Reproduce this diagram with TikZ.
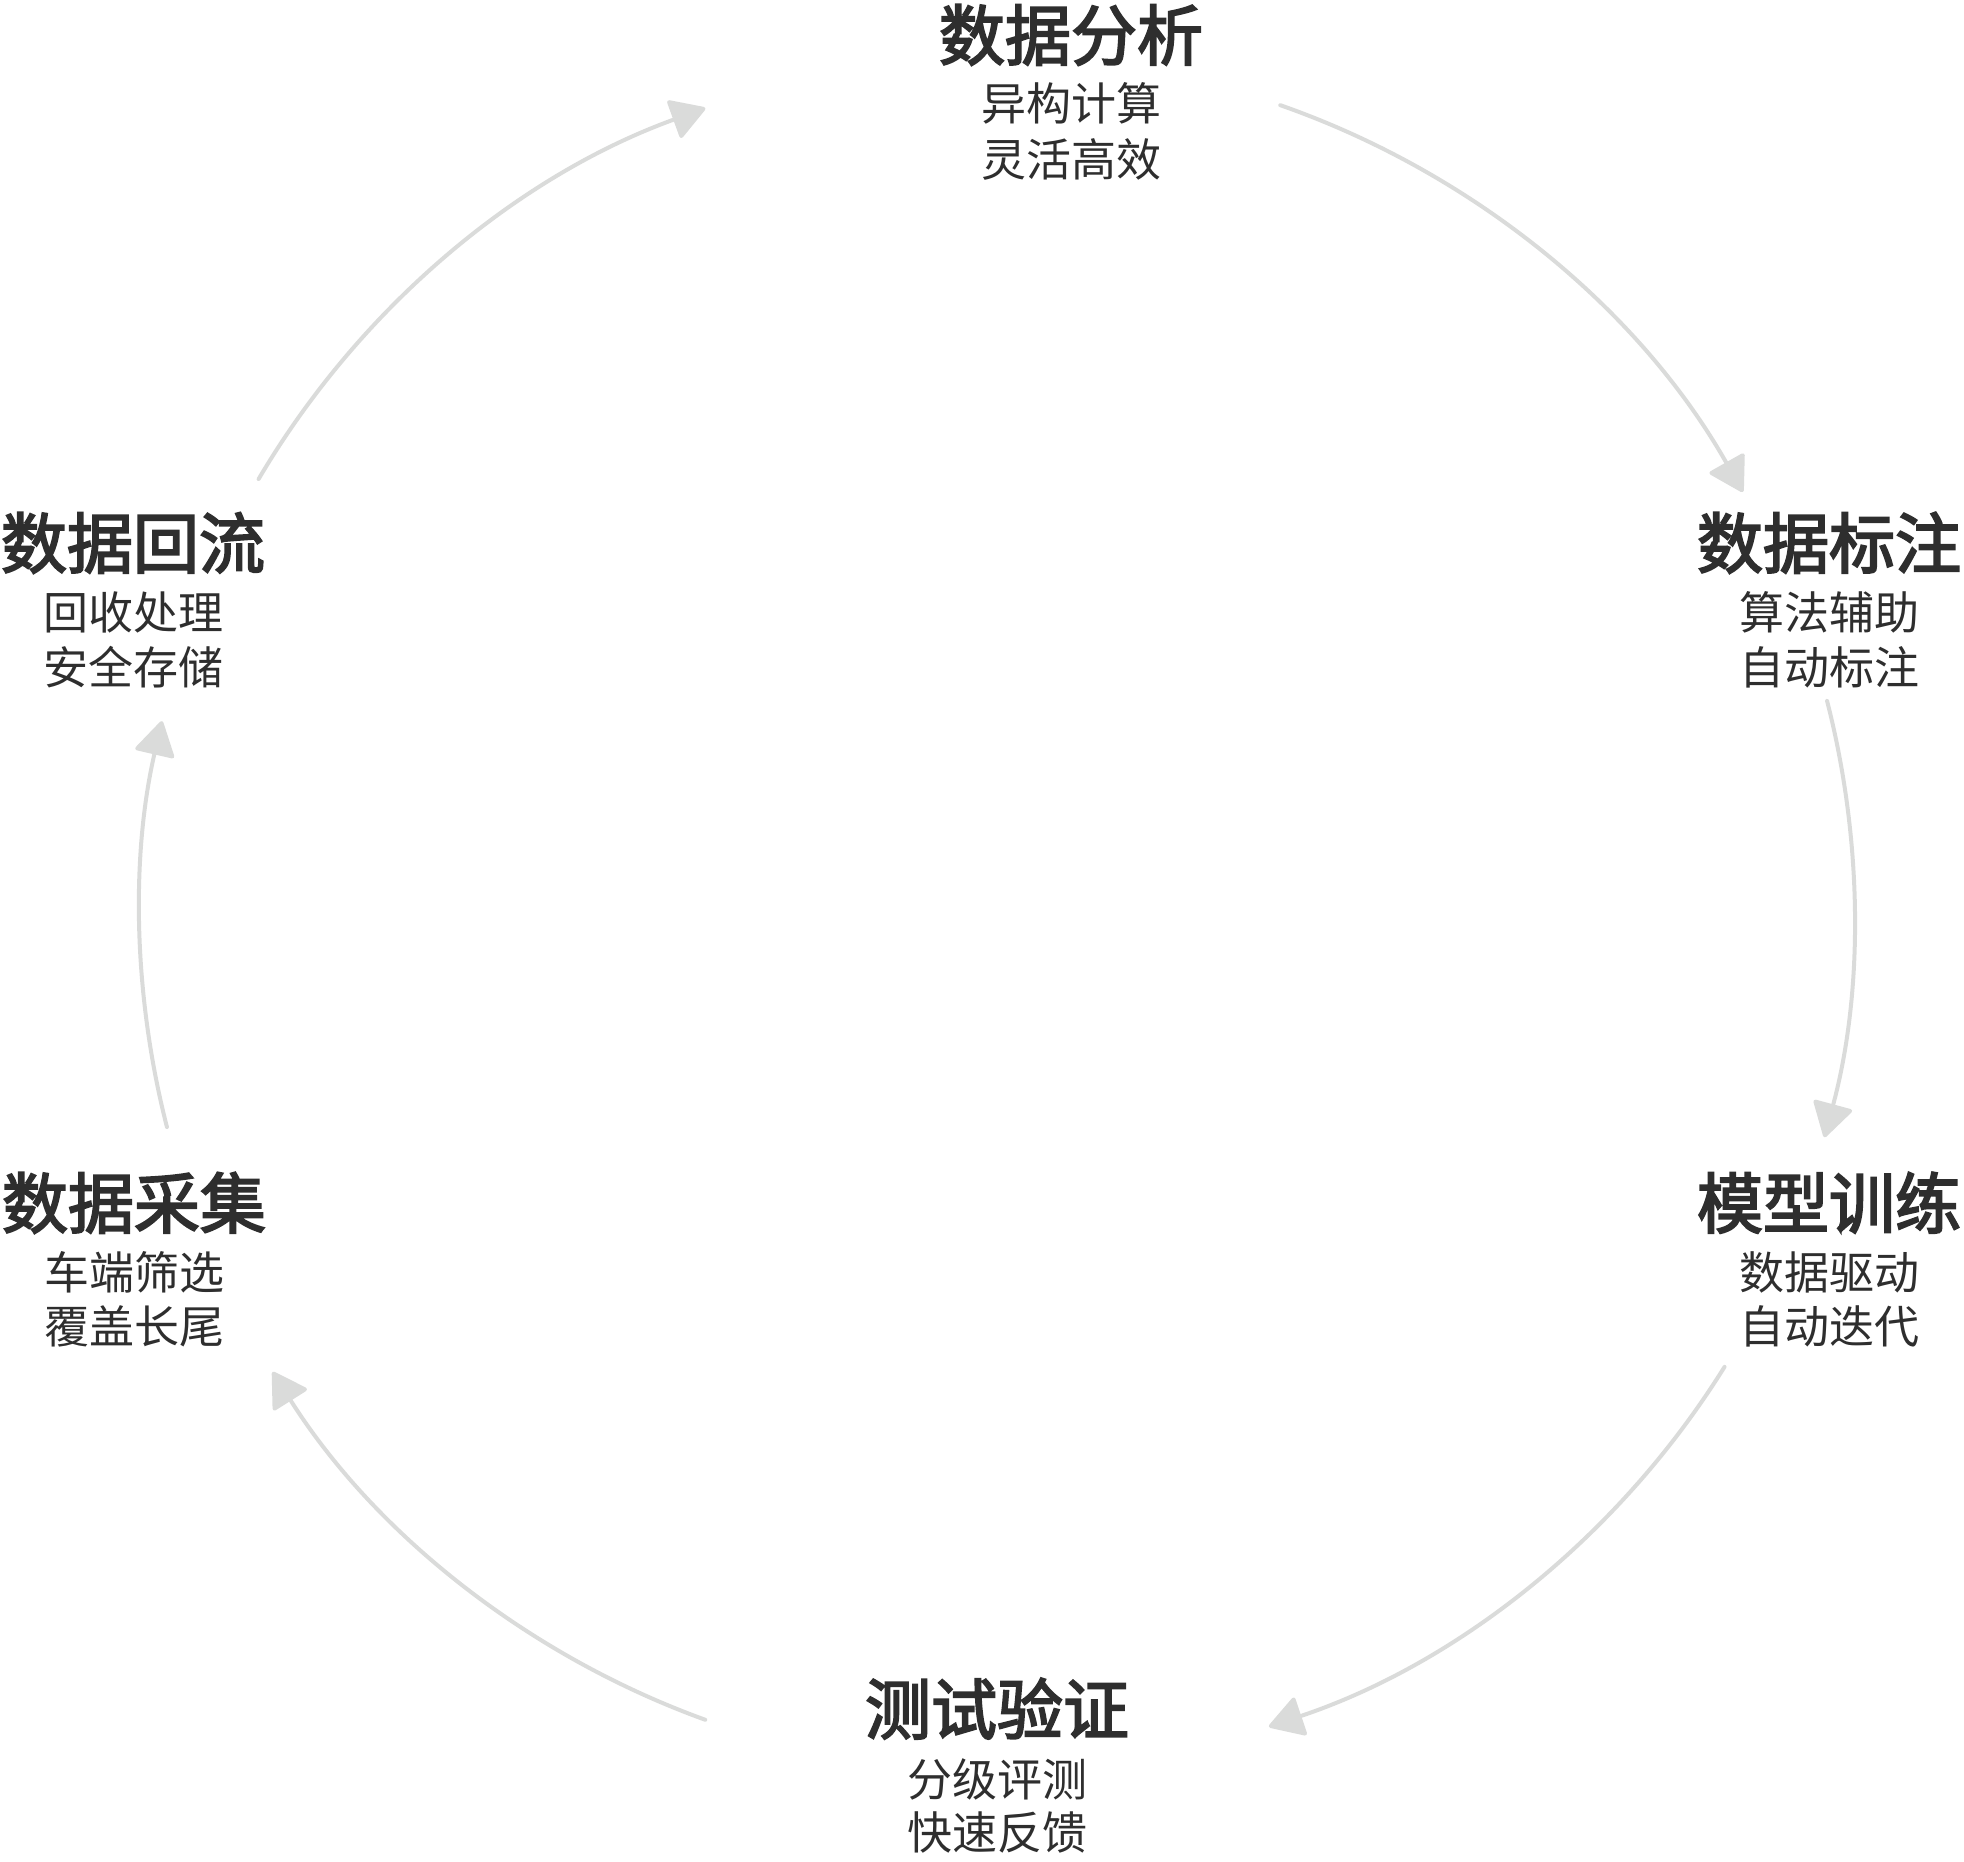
\documentclass[tikz,border=0pt]{standalone}
\usepackage{fontspec}
\usetikzlibrary{arrows.meta,calc}
\newfontfamily\cjk{Noto Sans CJK SC}
\newfontfamily\cjkhead{Noto Sans CJK SC}[FakeBold=3]
\definecolor{ink}{RGB}{46,46,46}
\definecolor{ring}{RGB}{218,219,218}

\begin{document}
\begin{tikzpicture}[x=1pt,y=1pt,
  title/.style={font=\cjkhead\fontsize{66}{70}\selectfont, text=ink, inner sep=0pt, anchor=base},
  sub/.style={font=\cjk\fontsize{45}{54}\selectfont, text=ink, inner sep=0pt, anchor=base},
  flow/.style={draw=ring, line width=4pt, line cap=round,
    -{Triangle[length=36pt,width=42pt,round]}}]

\useasboundingbox (0,0) rectangle (1964,1862);
\coordinate (O) at (997,948);

% stage labels
\node[title] (fx) at (1071,1802) {数据分析};
\node[sub] (fx1) at (1071,1741) {异构计算};
\node[sub] (fx2) at (1071,1685) {灵活高效};

\node[title] (bz) at (1829,1294) {数据标注};
\node[sub] (bz1) at (1829,1232) {算法辅助};
\node[sub] (bz2) at (1829,1177) {自动标注};

\node[title] (xl) at (1829,634) {模型训练};
\node[sub] (xl1) at (1829,572) {数据驱动};
\node[sub] (xl2) at (1829,518) {自动迭代};

\node[title] (yz) at (997,128) {测试验证};
\node[sub] (yz1) at (997,65) {分级评测};
\node[sub] (yz2) at (997,12) {快速反馈};

\node[title] (cj) at (134,634) {数据采集};
\node[sub] (cj1) at (134,572) {车端筛选};
\node[sub] (cj2) at (134,518) {覆盖长尾};

\node[title] (hl) at (133,1294) {数据回流};
\node[sub] (hl1) at (133,1232) {回收处理};
\node[sub] (hl2) at (133,1177) {安全存储};

% arc start points on the ring
\coordinate (s1) at ($(O)+(70.7:857)$);
\coordinate (s2) at ($(O)+(14.4:857)$);
\coordinate (s3) at ($(O)+(-31.9:857)$);
\coordinate (s4) at ($(O)+(-109.9:857)$);
\coordinate (s5) at ($(O)+(194.4:857)$);
\coordinate (s6) at ($(O)+(149.5:857)$);

% ring of arrows
\draw[flow] (s1) arc[start angle=70.7, end angle=29.5, radius=857];
\draw[flow] (s2) arc[start angle=14.4, end angle=-15.1, radius=857];
\draw[flow] (s3) arc[start angle=-31.9, end angle=-71.5, radius=857];
\draw[flow] (s4) arc[start angle=-109.9, end angle=-147.7, radius=857];
\draw[flow] (s5) arc[start angle=194.4, end angle=167, radius=857];
\draw[flow] (s6) arc[start angle=149.5, end angle=109.9, radius=857];
\end{tikzpicture}
\end{document}
